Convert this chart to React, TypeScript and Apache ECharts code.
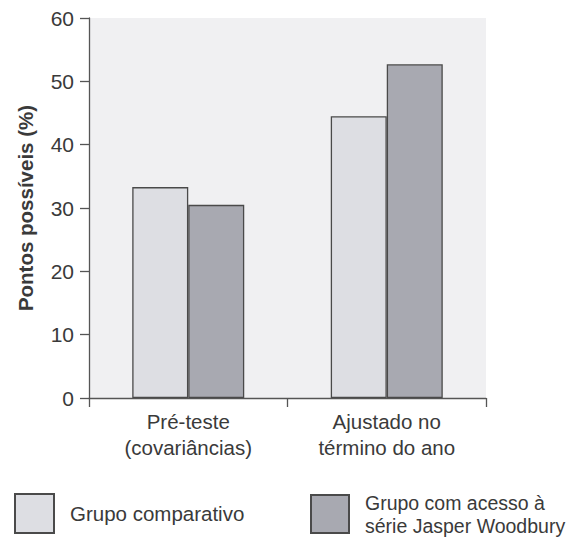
import React, { useEffect, useRef } from "react";
import * as echarts from "echarts";

const categories = ["Pré-teste\n(covariâncias)", "Ajustado no\ntérmino do ano"];
const seriesNames = ["Grupo comparativo", "Grupo com acesso à\nsérie Jasper Woodbury"];
const comparativo = [33.3, 44.5];
const jasper = [30.5, 52.7];
const yTicks = { min: 0, max: 60, interval: 10 };

export default function App() {
  const ref = useRef<HTMLDivElement>(null);
  useEffect(() => {
    if (!ref.current) return;
    const chart = echarts.init(ref.current, null, { renderer: "svg" });
    const font = "Liberation Sans, Arial, sans-serif";
    const textColor = "#3a3a3a";
    chart.setOption({
      animation: false,
      textStyle: { fontFamily: font },
      grid: {
        left: 89,
        right: 99,
        top: 18,
        bottom: 139,
        show: true,
        backgroundColor: "#f0f0f2",
        borderWidth: 0,
      },
      legend: [
        {
          data: [seriesNames[0]],
          left: 14,
          top: 493,
          padding: 0,
          itemWidth: 39,
          itemHeight: 39,
          icon: "rect",
          textStyle: { fontSize: 20.5, color: textColor, fontFamily: font, padding: [0, 0, 0, 11] },
        },
        {
          data: [seriesNames[1]],
          left: 310,
          top: 491,
          padding: 0,
          itemWidth: 38,
          itemHeight: 38,
          icon: "rect",
          textStyle: { fontSize: 19.5, color: textColor, fontFamily: font, lineHeight: 23, padding: [0, 0, 0, 11] },
        },
      ],
      xAxis: {
        type: "category",
        data: categories,
        axisLine: { show: true, lineStyle: { color: "#555", width: 1.3 } },
        axisTick: { show: true, length: 9, lineStyle: { color: "#555", width: 1.3 } },
        axisLabel: { fontSize: 20.5, color: textColor, lineHeight: 26, margin: 10, fontFamily: font },
      },
      yAxis: {
        type: "value",
        min: yTicks.min,
        max: yTicks.max,
        interval: yTicks.interval,
        name: "Pontos possíveis (%)",
        nameLocation: "middle",
        nameGap: 53,
        nameTextStyle: { fontSize: 20.5, fontWeight: "bold", color: textColor, fontFamily: font },
        axisLine: { show: true, lineStyle: { color: "#555", width: 1.3 } },
        axisTick: { show: true, length: 9, lineStyle: { color: "#555", width: 1.3 } },
        axisLabel: { fontSize: 21, color: textColor, margin: 15, fontFamily: font },
        splitLine: { show: false },
      },
      series: [
        {
          name: seriesNames[0],
          type: "bar",
          data: comparativo,
          barWidth: 56,
          barGap: "0%",
          itemStyle: { color: "#dddee3", borderColor: "#4a4a4a", borderWidth: 1.3 },
        },
        {
          name: seriesNames[1],
          type: "bar",
          data: jasper,
          barWidth: 56,
          barGap: "0%",
          itemStyle: { color: "#a8a9b1", borderColor: "#4a4a4a", borderWidth: 1.3 },
        },
      ],
    });
    return () => chart.dispose();
  }, []);
  return <div ref={ref} style={{ position: "absolute", left: 0, top: 0, width: 585, height: 537 }} />;
}
